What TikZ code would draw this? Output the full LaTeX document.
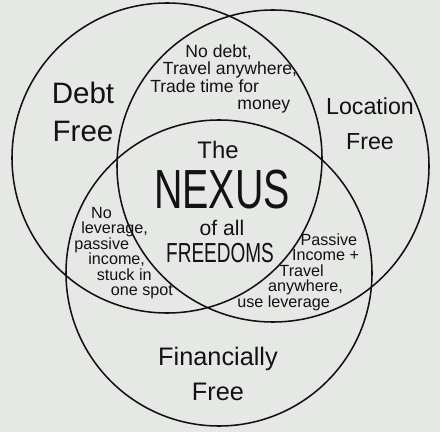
\documentclass[tikz,border=0pt]{standalone}
\usepackage{fontspec}
\setmainfont{Liberation Sans}
\usepackage{tikz}
\usepackage{xcolor}
\usepackage{graphicx}
\usetikzlibrary{positioning}
\definecolor{paperGray}{RGB}{229,232,228}
\definecolor{inkBlack}{RGB}{18,18,18}

\begin{document}
\begin{tikzpicture}[
            x=0.025cm, y=-0.025cm,
            node distance=2pt,
            ring/.style={draw=inkBlack, line width=1.1pt},
            hand/.style={align=center, text=inkBlack, inner sep=0pt},
            title/.style={hand, font=\fontsize{21}{27}\selectfont},
            note/.style={hand, align=left, anchor=west, font=\fontsize{11.5}{11}\selectfont}
        ]
            \fill[paperGray] (0,0) rectangle (440,432);
            \useasboundingbox (0,0) rectangle (440,432);

            % the three freedoms
            \draw[ring] (167,158) circle (155);
            \draw[ring] (273,166) circle (156);
            \draw[ring] (219,273) circle (153);

            \node[title] (debt) at (83,112) {Debt\\Free};
            \node[title, font=\fontsize{16.5}{25}\selectfont] (location) at (370,124) {Location\\Free};
            \node[title, font=\fontsize{18}{25}\selectfont] (financial) at (218,374) {Financially\\Free};

            % overlaps
            \node[note, font=\fontsize{12.5}{12.5}\selectfont] (debtLocation) at (150,79)
                {\hspace*{25pt}No debt,\\\hspace*{9pt}Travel anywhere,\\Trade time for\\\hspace*{62pt}money};
            \node[note] (debtFinancial) at (74,253)
                {\hspace*{12pt}No\\\hspace*{5pt}leverage,\\passive\\\hspace*{10pt}income,\\\hspace*{16pt}stuck in\\\hspace*{26pt}one spot};
            \node[note] (passiveTravel) at (237,272)
                {\hspace*{45pt}Passive\\\hspace*{39pt}Income +\\\hspace*{30pt}Travel\\\hspace*{22pt}anywhere,\\use leverage};

            % the centre
            \node[hand, font=\fontsize{28}{30}\selectfont] (nexus) at (222,190) {\scalebox{1}[1.4]{NEXUS}};
            \node[hand, font=\fontsize{17}{18}\selectfont] (the) at (218,150) {The};
            \node[hand, font=\fontsize{15}{16}\selectfont] (ofAll) at (222,228) {of all};
            \node[hand, font=\fontsize{13.5}{14}\selectfont] (freedoms) at (220,253) {\scalebox{1}[1.45]{FREEDOMS}};
        \end{tikzpicture}
\end{document}
